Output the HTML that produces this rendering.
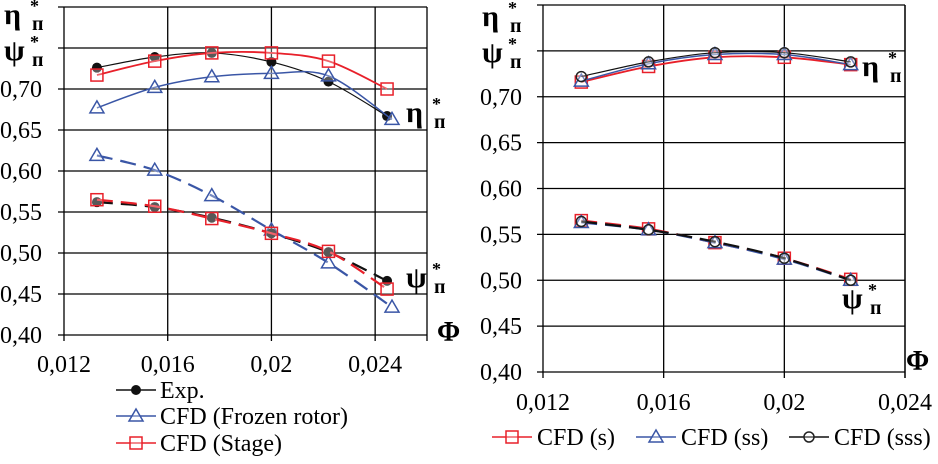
<!DOCTYPE html>
<html><head><meta charset="utf-8"><style>
html,body{margin:0;padding:0;background:#fff;}
svg, svg text{font-family:"Liberation Serif","Times New Roman","DejaVu Serif",serif;}
</style></head><body>
<svg id="c" width="938" height="459" viewBox="0 0 938 459"></svg>
<script>
// ---- Left chart data ----
const leftX = [0.01327, 0.0155, 0.0177, 0.0200, 0.0222, 0.02446];
const leftXFrozen = [0.01327, 0.0155, 0.0177, 0.0200, 0.0222, 0.02465];
const expEta = [0.726, 0.739, 0.744, 0.733, 0.709, 0.667];
const stageEta = [0.717, 0.734, 0.744, 0.744, 0.734, 0.700];
const frozenEta = [0.677, 0.702, 0.715, 0.719, 0.716, 0.663];
const expPsi = [0.562, 0.556, 0.543, 0.524, 0.501, 0.466];
const stagePsi = [0.565, 0.557, 0.542, 0.524, 0.502, 0.456];
const frozenPsi = [0.619, 0.601, 0.570, 0.528, 0.488, 0.434];
// ---- Right chart data ----
const rightX = [0.01327, 0.0155, 0.0177, 0.0200, 0.0222];
const sEta = [0.716, 0.733, 0.743, 0.743, 0.735];
const ssEta = [0.717, 0.736, 0.746, 0.746, 0.735];
const sssEta = [0.722, 0.738, 0.748, 0.748, 0.738];
const sPsi = [0.565, 0.556, 0.541, 0.524, 0.501];
const ssPsi = [0.563, 0.555, 0.541, 0.523, 0.500];
const sssPsi = [0.564, 0.555, 0.542, 0.524, 0.500];
const xTicks = [0.012, 0.016, 0.02, 0.024];
const xTickLabels = ["0,012", "0,016", "0,02", "0,024"];
const yTicks = [0.40, 0.45, 0.50, 0.55, 0.60, 0.65, 0.70, 0.75, 0.80];
const yTickLabels = ["0,40", "0,45", "0,50", "0,55", "0,60", "0,65", "0,70", "", ""];

const NS = "http://www.w3.org/2000/svg";
const svg = document.getElementById("c");
function el(tag, attrs, parent, text) {
  const e = document.createElementNS(NS, tag);
  for (const k in attrs) e.setAttribute(k, attrs[k]);
  if (text !== undefined) e.textContent = text;
  (parent || svg).appendChild(e);
  return e;
}
const RED = "#e8202a", BLUE = "#3a56a6", BLK = "#111";

function makeChart(name, x0, x1, y0, y1, xmin, xmax, lblRight, xLblY) {
  const g = el("g", {});
  
  
  const sx = v => x0 + (v - xmin) / (xmax - xmin) * (x1 - x0);
  const sy = v => y0 + (v - 0.40) / 0.40 * (y1 - y0);
  yTicks.forEach((t, i) => {
    const ln = el("line", {x1: x0 - 6, x2: x1, y1: sy(t), y2: sy(t), stroke: "#000", "stroke-width": 1.3}, g);
    
    
    if (yTickLabels[i]) {
      const tx = el("text", {x: lblRight, y: sy(t) + 8, "text-anchor": "end", "font-size": 24}, g, yTickLabels[i]);
      
      
    }
  });
  xTicks.forEach((t, i) => {
    const ln = el("line", {x1: sx(t), x2: sx(t), y1: sy(0.80), y2: y0 + 6, stroke: "#000", "stroke-width": 1.3}, g);
    
    
    const tx = el("text", {x: sx(t), y: xLblY, "text-anchor": "middle", "font-size": 24}, g, xTickLabels[i]);
    
    
  });
  const rb = el("line", {x1: x1, x2: x1, y1: sy(0.80), y2: y0 + 6, stroke: "#000", "stroke-width": 1.3}, g);
  
  
  return {g, sx, sy};
}

function marker(g, type, x, y, color) {
  let m;
  if (type === "dot") m = el("circle", {cx: x, cy: y, r: 5, fill: "#111"}, g);
  else if (type === "circ") m = el("circle", {cx: x, cy: y, r: 5, fill: "#fff", "fill-opacity": 0.3, stroke: "#222", "stroke-width": 1.5}, g);
  else if (type === "tri") m = el("polygon", {points: `${x},${y-7} ${x-7},${y+5} ${x+7},${y+5}`, fill: "#fff", "fill-opacity": 0.3, stroke: color, "stroke-width": 1.5}, g);
  else m = el("rect", {x: x - 6, y: y - 6, width: 12, height: 12, fill: "#fff", "fill-opacity": 0.3, stroke: color, "stroke-width": 1.5}, g);
  
  
}

function series(ch, name, xs, ys, color, type, dashed, width) {
  const g = el("g", {}, ch.g);
  
  
  const pts = xs.map((x, i) => [ch.sx(x), ch.sy(ys[i])]);
  let d = "M" + pts[0].join(",");
  for (let i = 1; i < pts.length; i++) {
    const p0 = pts[Math.max(0, i - 2)], p1 = pts[i - 1], p2 = pts[i], p3 = pts[Math.min(pts.length - 1, i + 1)];
    const c1 = [p1[0] + (p2[0] - p0[0]) / 6, p1[1] + (p2[1] - p0[1]) / 6];
    const c2 = [p2[0] - (p3[0] - p1[0]) / 6, p2[1] - (p3[1] - p1[1]) / 6];
    d += `C${c1.join(",")} ${c2.join(",")} ${p2.join(",")}`;
  }
  const attrs = {d, fill: "none", stroke: color, "stroke-width": width || 1.5};
  if (dashed) attrs["stroke-dasharray"] = "16,8";
  const p = el("path", attrs, g);
  
  
  pts.forEach(q => marker(g, type, q[0], q[1], color));
}

function label(sym, x, y, name) {
  const g = el("g", {"font-weight": "bold"});
  
  
  el("text", {x, y, "font-size": 30}, g, sym);
  el("text", {x: x + 26, y: y - 12, "font-size": 18}, g, "*");
  el("text", {x: x + 28, y: y + 6, "font-size": 20}, g, "п");
}

// Left chart
const L = makeChart("left-chart", 64, 427, 335, 7, 0.012, 0.026, 42, 372);
series(L, "exp-eta", leftX, expEta, BLK, "dot", false, 1.2);
series(L, "frozen-eta", leftXFrozen, frozenEta, BLUE, "tri", false, 1.5);
series(L, "stage-eta", leftX, stageEta, RED, "rect", false, 1.8);
series(L, "frozen-psi", leftXFrozen, frozenPsi, BLUE, "tri", true, 2.2);
series(L, "exp-psi", leftX, expPsi, BLK, "dot", true, 2.2);
series(L, "stage-psi", leftX, stagePsi, RED, "rect", true, 2.2);
label("η", 4, 24, "y-axis-title-eta");
label("ψ", 4, 60, "y-axis-title-psi");
label("η", 406, 122, "eta-curve-label");
label("ψ", 406, 287, "psi-curve-label");
const phiL = el("text", {x: 437, y: 341, "font-size": 28, "font-weight": "bold"}, svg, "Φ");



// Left legend
const legL = [["Exp.", BLK, "dot", 390], ["CFD (Frozen rotor)", BLUE, "tri", 416], ["CFD (Stage)", RED, "rect", 443]];
legL.forEach(r => {
  const g = el("g", {});
  
  
  el("line", {x1: 116, x2: 156, y1: r[3], y2: r[3], stroke: r[1], "stroke-width": 1.5}, g);
  marker(g, r[2], 136, r[3], r[1]);
  el("text", {x: 160, y: r[3] + 8, "font-size": 24}, g, r[0]);
});

// Right chart
const R = makeChart("right-chart", 543, 905, 372, 5, 0.012, 0.024, 522, 410);
series(R, "s-eta", rightX, sEta, RED, "rect", false, 1.8);
series(R, "ss-eta", rightX, ssEta, BLUE, "tri", false, 1.5);
series(R, "sss-eta", rightX, sssEta, BLK, "circ", false, 1.2);
series(R, "s-psi", rightX, sPsi, RED, "rect", true, 2.2);
series(R, "ss-psi", rightX, ssPsi, BLUE, "tri", true, 2.2);
series(R, "sss-psi", rightX, sssPsi, BLK, "circ", true, 2.2);
label("η", 482, 26, "y-axis-title-eta-right");
label("ψ", 482, 62, "y-axis-title-psi-right");
label("η", 862, 76, "eta-curve-label-right");
label("ψ", 842, 308, "psi-curve-label-right");
const phiR = el("text", {x: 906, y: 370, "font-size": 28, "font-weight": "bold"}, svg, "Φ");



const legR = [["CFD (s)", RED, "rect", 492, 537], ["CFD (ss)", BLUE, "tri", 636, 681], ["CFD (sss)", BLK, "circ", 789, 834]];
legR.forEach(r => {
  const g = el("g", {});
  
  
  el("line", {x1: r[3], x2: r[3] + 40, y1: 437, y2: 437, stroke: r[1], "stroke-width": 1.5}, g);
  marker(g, r[2], r[3] + 20, 437, r[1]);
  el("text", {x: r[4], y: 445, "font-size": 24}, g, r[0]);
});
</script>
</body></html>
